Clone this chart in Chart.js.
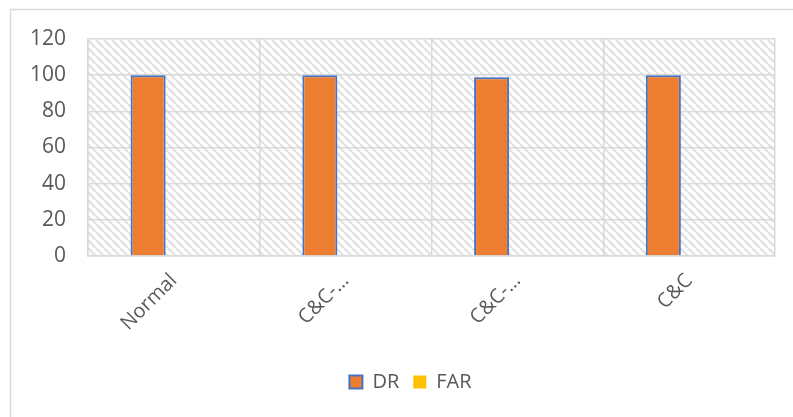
<!DOCTYPE html>
<html>
<head>
<meta charset="utf-8">
<script src="https://cdn.jsdelivr.net/npm/chart.js@4/dist/chart.umd.min.js"></script>
<style>
  html, body { margin: 0; padding: 0; background: #ffffff; }
  #wrap { position: relative; width: 793px; height: 417px; }
</style>
</head>
<body>
<div id="wrap"><canvas id="c" width="793" height="417"></canvas></div>
<script>
// Categories and series
const categories = ["Normal", "C&C-…", "C&C-…", "C&C"];
const drValues  = [100, 100, 98.9, 100];
const farValues = [0, 0, 0, 0];
const yTicks    = [0, 20, 40, 60, 80, 100, 120];

const GRID = "#d9d9d9";
const TEXT = "#595959";
const FONT = "'Open Sans', 'Liberation Sans', sans-serif";

// Diagonal hatch used as the plot-area fill
function makeHatch() {
  const p = document.createElement("canvas");
  p.width = 8; p.height = 8;
  const g = p.getContext("2d");
  g.fillStyle = "#ffffff";
  g.fillRect(0, 0, 8, 8);
  g.strokeStyle = "#e3e3e3";
  g.lineWidth = 2.5;
  for (const o of [-8, 0, 8]) {
    g.beginPath();
    g.moveTo(o, 0);
    g.lineTo(o + 8, 8);
    g.stroke();
  }
  return p;
}

const backdrop = {
  id: "backdrop",
  afterLayout(chart) {
    // nudge the legend row a little to the right of the canvas centre
    if (chart.legend) chart.legend.left += 36;
  },
  beforeDraw(chart) {
    const ctx = chart.ctx;
    const a = chart.chartArea;
    ctx.save();
    // outer frame (left and top edges)
    ctx.strokeStyle = GRID;
    ctx.lineWidth = 1.5;
    ctx.beginPath();
    ctx.moveTo(10.5, 417);
    ctx.lineTo(10.5, 9.5);
    ctx.lineTo(793, 9.5);
    ctx.stroke();
    // hatched plot area
    ctx.fillStyle = ctx.createPattern(makeHatch(), "repeat");
    ctx.fillRect(a.left, a.top, a.right - a.left, a.bottom - a.top);
    ctx.restore();
  }
};

new Chart(document.getElementById("c"), {
  type: "bar",
  data: {
    labels: categories,
    datasets: [
      {
        label: "DR",
        data: drValues,
        backgroundColor: "#ED7D31",
        borderColor: "#4472C4",
        borderWidth: 2,
        categoryPercentage: 0.6,
        barPercentage: 0.68
      },
      {
        label: "FAR",
        data: farValues,
        backgroundColor: "#FFC000",
        borderColor: "#FFC000",
        borderWidth: 0,
        categoryPercentage: 0.6,
        barPercentage: 0.68
      }
    ]
  },
  options: {
    responsive: false,
    animation: false,
    devicePixelRatio: 1,
    layout: { padding: { left: 10, top: 39, right: 18, bottom: 15 } },
    plugins: {
      tooltip: { enabled: false },
      legend: {
        position: "bottom",
        labels: {
          boxWidth: 13,
          boxHeight: 13,
          padding: 14,
          color: TEXT,
          font: { family: FONT, size: 20 }
        }
      }
    },
    scales: {
      x: {
        grid: { color: GRID, lineWidth: 1.5, offset: true, drawTicks: false },
        border: { color: GRID, width: 1.5 },
        ticks: {
          color: TEXT,
          font: { family: FONT, size: 20 },
          minRotation: 45,
          maxRotation: 45,
          padding: 13,
          autoSkip: false
        },
        afterFit(scale) { scale.height = 102; }
      },
      y: {
        min: 0,
        max: 120,
        afterBuildTicks(scale) { scale.ticks = yTicks.map(v => ({ value: v })); },
        grid: { color: GRID, lineWidth: 1.5, drawTicks: false },
        border: { color: GRID, width: 1.5 },
        ticks: {
          color: TEXT,
          font: { family: FONT, size: 21 },
          padding: 22
        },
        afterFit(scale) { scale.width = 78; }
      }
    }
  },
  plugins: [backdrop]
});
</script>
</body>
</html>
